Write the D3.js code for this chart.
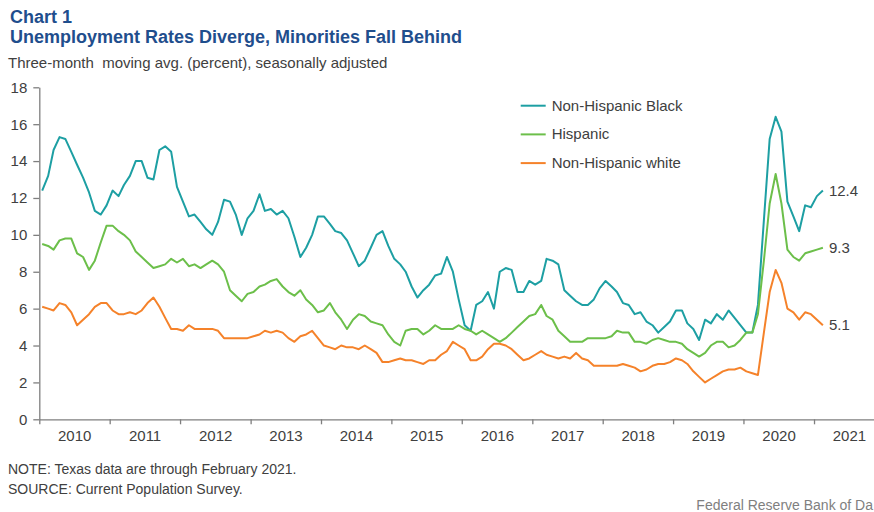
<!DOCTYPE html>
<html>
<head>
<meta charset="utf-8">
<script src="https://cdn.jsdelivr.net/npm/d3@7"></script>
<style>
  body { margin: 0; background: #fff; }
  svg { display: block; font-family: "Liberation Sans", Arial, sans-serif; }
</style>
</head>
<body>
<div id="chart"></div>
<script>
// monthly series, Jan 2010 - Feb 2021 (3-month moving avg, %)
var black = [
  12.4, 13.2, 14.6, 15.3, 15.2, 14.5, 13.8, 13.1, 12.3, 11.3,
  11.1, 11.6, 12.4, 12.1, 12.7, 13.2, 14.0, 14.0, 13.1, 13.0,
  14.6, 14.8, 14.5, 12.6, 11.8, 11.0, 11.1, 10.7, 10.3, 10.0,
  10.7, 11.9, 11.8, 11.1, 10.0, 10.9, 11.3, 12.2, 11.3, 11.4,
  11.1, 11.3, 10.9, 9.9, 8.8, 9.3, 10.0, 11.0, 11.0, 10.6,
  10.2, 10.1, 9.7, 9.0, 8.3, 8.6, 9.3, 10.0, 10.2, 9.4,
  8.7, 8.4, 8.0, 7.2, 6.6, 7.0, 7.3, 7.8, 7.9, 8.8,
  8.0, 6.5, 5.1, 4.8, 6.2, 6.4, 6.9, 6.0, 8.0, 8.2,
  8.1, 6.9, 6.9, 7.5, 7.3, 7.5, 8.7, 8.6, 8.4, 7.0,
  6.7, 6.4, 6.2, 6.2, 6.5, 7.1, 7.5, 7.2, 6.9, 6.3,
  6.2, 5.7, 5.8, 5.3, 5.1, 4.7, 5.0, 5.3, 5.9, 5.9,
  5.2, 4.9, 4.3, 5.4, 5.2, 5.7, 5.4, 5.9, 5.5, 5.1,
  4.7, 4.7, 6.2, 10.8, 15.2, 16.4, 15.6, 11.8, 11.0, 10.2,
  11.6, 11.5, 12.1, 12.4
];
var hispanic = [
  9.5, 9.4, 9.2, 9.7, 9.8, 9.8, 9.0, 8.8, 8.1, 8.6,
  9.6, 10.5, 10.5, 10.2, 10.0, 9.7, 9.1, 8.8, 8.5, 8.2,
  8.3, 8.4, 8.7, 8.5, 8.7, 8.3, 8.4, 8.2, 8.4, 8.6,
  8.4, 8.0, 7.0, 6.7, 6.4, 6.8, 6.9, 7.2, 7.3, 7.5,
  7.6, 7.2, 6.9, 6.7, 7.0, 6.5, 6.2, 5.8, 5.9, 6.3,
  5.8, 5.4, 4.9, 5.4, 5.7, 5.6, 5.3, 5.2, 5.1, 4.6,
  4.2, 4.0, 4.8, 4.9, 4.9, 4.6, 4.8, 5.1, 4.9, 4.9,
  4.9, 5.1, 4.9, 4.8, 4.6, 4.8, 4.6, 4.4, 4.2, 4.4,
  4.7, 5.0, 5.3, 5.6, 5.7, 6.2, 5.6, 5.4, 4.8, 4.5,
  4.2, 4.2, 4.2, 4.4, 4.4, 4.4, 4.4, 4.5, 4.8, 4.7,
  4.7, 4.2, 4.2, 4.1, 4.3, 4.4, 4.3, 4.2, 4.2, 4.1,
  3.8, 3.6, 3.4, 3.6, 4.0, 4.2, 4.2, 3.9, 4.0, 4.3,
  4.7, 4.7, 5.7, 8.6, 11.7, 13.3, 11.7, 9.2, 8.8, 8.6,
  9.0, 9.1, 9.2, 9.3
];
var white = [
  6.1, 6.0, 5.9, 6.3, 6.2, 5.8, 5.1, 5.4, 5.7, 6.1,
  6.3, 6.3, 5.9, 5.7, 5.7, 5.8, 5.7, 5.9, 6.3, 6.6,
  6.1, 5.5, 4.9, 4.9, 4.8, 5.1, 4.9, 4.9, 4.9, 4.9,
  4.8, 4.4, 4.4, 4.4, 4.4, 4.4, 4.5, 4.6, 4.8, 4.7,
  4.8, 4.7, 4.4, 4.2, 4.5, 4.6, 4.8, 4.4, 4.0, 3.9,
  3.8, 4.0, 3.9, 3.9, 3.8, 4.0, 3.8, 3.6, 3.1, 3.1,
  3.2, 3.3, 3.2, 3.2, 3.1, 3.0, 3.2, 3.2, 3.5, 3.7,
  4.2, 4.0, 3.8, 3.2, 3.2, 3.4, 3.8, 4.1, 4.1, 4.0,
  3.8, 3.5, 3.2, 3.3, 3.5, 3.7, 3.5, 3.4, 3.3, 3.4,
  3.3, 3.6, 3.3, 3.2, 2.9, 2.9, 2.9, 2.9, 2.9, 3.0,
  2.9, 2.8, 2.6, 2.7, 2.9, 3.0, 3.0, 3.1, 3.3, 3.2,
  3.0, 2.6, 2.3, 2.0, 2.2, 2.4, 2.6, 2.7, 2.7, 2.8,
  2.6, 2.5, 2.4, 4.7, 6.9, 8.1, 7.4, 6.0, 5.8, 5.4,
  5.8, 5.7, 5.4, 5.1
];

var seriesNames = ["Non-Hispanic Black", "Hispanic", "Non-Hispanic white"];
var seriesColors = ["#1d9fa3", "#6cbf4a", "#f5822a"];
var endLabels = ["12.4", "9.3", "5.1"];
var yTicks = [0, 2, 4, 6, 8, 10, 12, 14, 16, 18];
var years = [2010, 2011, 2012, 2013, 2014, 2015, 2016, 2017, 2018, 2019, 2020, 2021];

var width = 874;
var height = 512;

var svg = d3.select("#chart")
    .append("svg")
    .attr("width", width)
    .attr("height", height);

var x = d3.scaleTime()
    .domain([new Date(2010, 0, 1), new Date(2022, 0, 1)])
    .range([39.3, 884.4]);

var y = d3.scaleLinear()
    .domain([0, 18])
    .range([419.3, 87.3]);

// points sit in the middle of each month
var dates = black.map((d, i) => new Date(2010, i, 16));

// titles
svg.append("text")
    .attr("x", 10).attr("y", 23)
    .attr("font-size", 18).attr("font-weight", "bold")
    .attr("fill", "#1f4e8d")
    .text("Chart 1");
svg.append("text")
    .attr("x", 10).attr("y", 43)
    .attr("font-size", 18).attr("font-weight", "bold")
    .attr("fill", "#1f4e8d")
    .text("Unemployment Rates Diverge, Minorities Fall Behind");
svg.append("text")
    .attr("x", 8).attr("y", 68)
    .attr("font-size", 15)
    .attr("fill", "#404040")
    .style("white-space", "pre")
    .text("Three-month  moving avg. (percent), seasonally adjusted");

// axes
var yAxis = svg.append("g")
    .attr("transform", "translate(39.3,0)")
    .call(d3.axisLeft(y).tickValues(yTicks).tickSize(6).tickSizeOuter(0).tickPadding(6));

var xAxis = svg.append("g")
    .attr("transform", "translate(0,419.3)")
    .call(d3.axisBottom(x).ticks(d3.timeYear.every(1)).tickFormat("").tickSize(5).tickSizeOuter(0));

var xLabels = svg.append("g")
    .attr("transform", "translate(0,419.3)")
    .call(d3.axisBottom(x)
        .tickValues(years.map(yr => new Date(yr, 6, 1)))
        .tickFormat(d3.timeFormat("%Y"))
        .tickSize(0).tickPadding(11));
xLabels.select(".domain").remove();

svg.selectAll(".domain, .tick line")
    .attr("stroke", "#7f7f7f")
    .attr("stroke-width", 1.3);
svg.selectAll(".tick text")
    .attr("font-family", "Liberation Sans, Arial, sans-serif")
    .attr("font-size", 15)
    .attr("fill", "#404040");

// lines
var line = d3.line()
    .x((d, i) => x(dates[i]))
    .y(d => y(d));

var allSeries = [black, hispanic, white];

svg.selectAll(".series")
    .data(allSeries)
    .enter()
    .append("path")
    .attr("class", "series")
    .attr("d", line)
    .attr("fill", "none")
    .attr("stroke", (d, i) => seriesColors[i])
    .attr("stroke-width", 2)
    .attr("stroke-linejoin", "round");

// end labels
svg.selectAll(".endlabel")
    .data(allSeries)
    .enter()
    .append("text")
    .attr("class", "endlabel")
    .attr("x", d => x(dates[d.length - 1]) + 6)
    .attr("y", d => y(d[d.length - 1]) + 5)
    .attr("font-size", 15)
    .attr("fill", "#404040")
    .text((d, i) => endLabels[i]);

// legend
var legend = svg.selectAll(".legend")
    .data(seriesNames)
    .enter()
    .append("g")
    .attr("class", "legend")
    .attr("transform", (d, i) => "translate(520.7," + (105.7 + i * 28.7) + ")");

legend.append("line")
    .attr("x1", 0).attr("x2", 25)
    .attr("stroke", (d, i) => seriesColors[i])
    .attr("stroke-width", 2);

legend.append("text")
    .attr("x", 31).attr("y", 5)
    .attr("font-size", 15)
    .attr("fill", "#404040")
    .text(d => d);

// notes (the reference image is cropped at the right edge)
svg.append("text")
    .attr("x", 8).attr("y", 474)
    .attr("font-size", 14)
    .attr("fill", "#404040")
    .text("NOTE: Texas data are through February 2021.");
svg.append("text")
    .attr("x", 8).attr("y", 494)
    .attr("font-size", 14)
    .attr("fill", "#404040")
    .text("SOURCE: Current Population Survey.");
svg.append("text")
    .attr("x", 873).attr("y", 510)
    .attr("text-anchor", "end")
    .attr("font-size", 14)
    .attr("fill", "#7f7f7f")
    .text("Federal Reserve Bank of Da");
</script>
</body>
</html>
